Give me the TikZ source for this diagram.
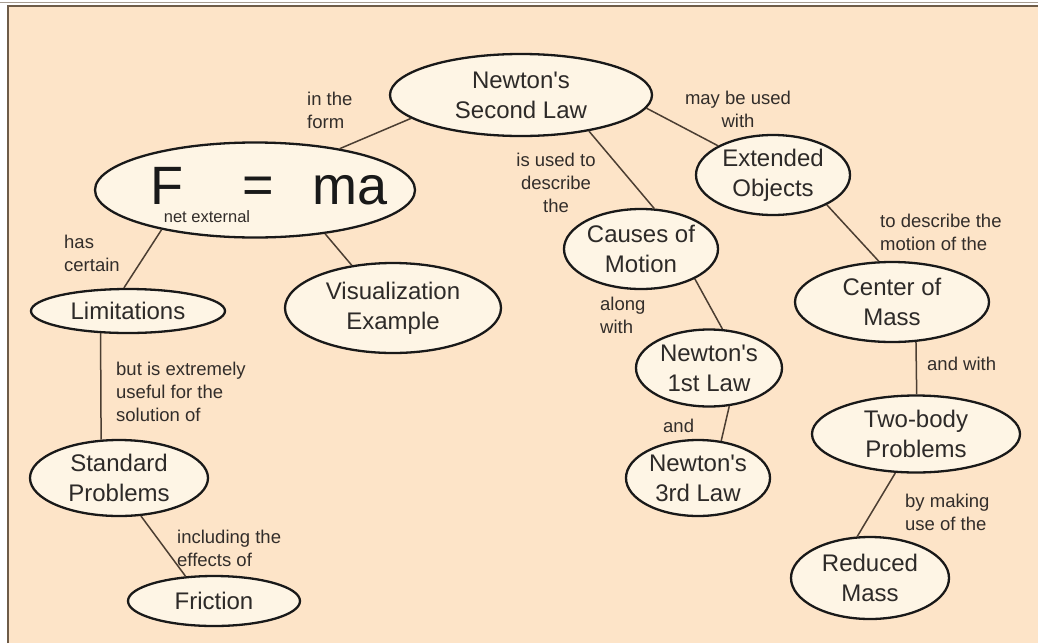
\documentclass[tikz,border=0pt]{standalone}
\usepackage{fontspec}
\setmainfont{Liberation Sans}
\usetikzlibrary{shapes.geometric}
\definecolor{bgpeach}{RGB}{253,228,200}
\definecolor{ellfill}{RGB}{254,245,229}
\definecolor{framec}{RGB}{110,92,72}
\definecolor{txtc}{RGB}{45,42,40}
\definecolor{lblc}{RGB}{50,45,42}
\definecolor{linec}{RGB}{75,62,50}
\tikzset{
  concept/.style={ellipse, draw=black!90, line width=2.3pt, fill=ellfill, inner sep=0pt,
    text=txtc, align=center, font=\fontsize{24}{30}\selectfont},
  lbl/.style={text=lblc, font=\fontsize{18.5}{23}\selectfont, inner sep=0pt},
  conn/.style={draw=linec, line width=1.5pt},
  bigtxt/.style={inner sep=0pt, text=black!90, font=\fontsize{54}{60}\selectfont},
}
\begin{document}
\begin{tikzpicture}[x=1pt,y=-1pt]
\useasboundingbox (0,0) rectangle (1038,643);
\fill[white] (0,0) rectangle (1038,643);
\fill[bgpeach] (8,6) rectangle (1038,643);
\draw[framec!60, line width=1pt] (0,2.5) -- (1038,2.5);
\draw[framec, line width=2pt] (8,643) -- (8,6) -- (1038,6);

% concepts
\node[concept, minimum width=262pt, minimum height=82pt] (nsl) at (521,95) {Newton\textquotesingle s\\Second Law};
\node[concept, minimum width=320pt, minimum height=95pt] (fma) at (255,190) {};
\node[concept, minimum width=154pt, minimum height=80pt] (ext) at (773,175) {Extended\\Objects};
\node[concept, minimum width=154pt, minimum height=80pt] (cause) at (641,249) {Causes of\\Motion};
\node[concept, minimum width=194pt, minimum height=80pt] (com) at (892,302) {Center of\\Mass};
\node[concept, minimum width=194pt, minimum height=44pt] (lim) at (128,311) {Limitations};
\node[concept, minimum width=216pt, minimum height=90pt] (vis) at (393,308) {Visualization\\Example};
\node[concept, minimum width=146pt, minimum height=77pt] (n1) at (709,368) {Newton\textquotesingle s\\1st Law};
\node[concept, minimum width=208pt, minimum height=77pt] (two) at (916,434) {Two-body\\Problems};
\node[concept, minimum width=178pt, minimum height=76pt] (std) at (119,478) {Standard\\Problems};
\node[concept, minimum width=144pt, minimum height=76pt] (n3) at (698,478) {Newton\textquotesingle s\\3rd Law};
\node[concept, minimum width=172pt, minimum height=50pt] (fric) at (214,601) {Friction};
\node[concept, minimum width=158pt, minimum height=82pt] (red) at (870,578) {Reduced\\Mass};

% F = ma contents
\node[bigtxt, anchor=base west] (fF) at (150,204) {F};
\node[bigtxt] (feq) at (258,190) {=};
\node[bigtxt, anchor=base west] (fma2) at (312,204) {ma};
\node[lbl, font=\fontsize{16.5}{20}\selectfont] (fnet) at (207,217) {net external};

% connectors
\draw[conn] (nsl.192) -- (fma.26);
\draw[conn] (nsl.354) -- (ext.152);
\draw[conn] (nsl.332) -- (cause.72);
\draw[conn] (fma.203) -- (lim.100);
\draw[conn] (fma.328) -- (vis.134);
\draw[conn] (ext.331) -- (com.108);
\draw[conn] (cause.331) -- (n1.71);
\draw[conn] (com.301) -- (two.89);
\draw[conn] (lim.219) -- (std.115);
\draw[conn] (n1.298) -- (n3.58);
\draw[conn] (two.242) -- (red.107);
\draw[conn] (std.300) -- (fric.139);

% link labels
\node[lbl, align=left, anchor=west] (l1) at (307,110) {in the\\form};
\node[lbl, align=center] (l2) at (738,109) {may be used\\with};
\node[lbl, align=center] (l3) at (556,183) {is used to\\describe\\the};
\node[lbl, align=left, anchor=west] (l4) at (64,253) {has\\certain};
\node[lbl, align=left, anchor=west] (l5) at (880,232) {to describe the\\motion of the};
\node[lbl, align=left, anchor=west] (l6) at (600,315) {along\\with};
\node[lbl, align=left, anchor=west] (l7) at (927,364) {and with};
\node[lbl, align=left, anchor=west] (l8) at (116,392) {but is extremely\\useful for the\\solution of};
\node[lbl, align=left, anchor=west] (l9) at (663,426) {and};
\node[lbl, align=left, anchor=west] (l10) at (905,512) {by making\\use of the};
\node[lbl, align=left, anchor=west] (l11) at (177,548) {including the\\effects of};
\end{tikzpicture}
\end{document}
